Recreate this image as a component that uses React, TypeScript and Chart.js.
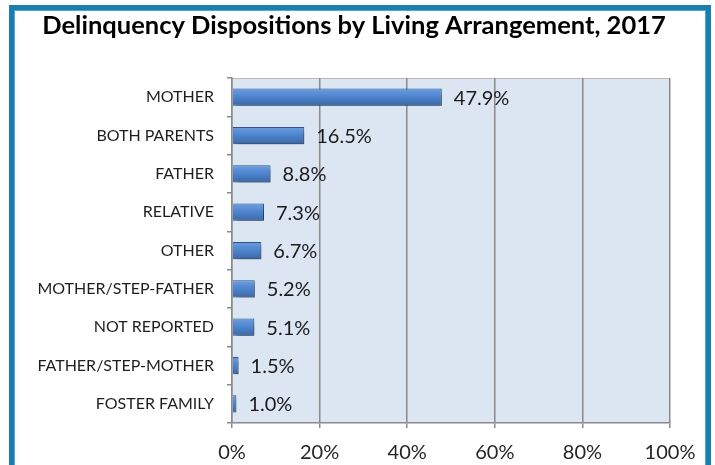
import React, { useEffect, useRef } from "react";
import { Chart, registerables } from "chart.js";

Chart.register(...registerables);

const TITLE = "Delinquency Dispositions by Living Arrangement, 2017";
const categories = [
  "MOTHER",
  "BOTH PARENTS",
  "FATHER",
  "RELATIVE",
  "OTHER",
  "MOTHER/STEP-FATHER",
  "NOT REPORTED",
  "FATHER/STEP-MOTHER",
  "FOSTER FAMILY",
];
const percentages = [47.9, 16.5, 8.8, 7.3, 6.7, 5.2, 5.1, 1.5, 1.0];
const xTicks = [0, 20, 40, 60, 80, 100];

const FONT = "Lato, 'Open Sans', sans-serif";

const bgPlugin = {
  id: "plotBg",
  beforeDraw(chart: any) {
    const { ctx, chartArea } = chart;
    if (!chartArea) return;
    ctx.save();
    ctx.fillStyle = "#dce6f2";
    ctx.fillRect(chartArea.left, chartArea.top, chartArea.right - chartArea.left, chartArea.bottom - chartArea.top);
    ctx.strokeStyle = "#b9b9b9";
    ctx.lineWidth = 1;
    ctx.beginPath();
    ctx.moveTo(chartArea.left, chartArea.top + 0.5);
    ctx.lineTo(chartArea.right, chartArea.top + 0.5);
    ctx.stroke();
    // chart title
    ctx.font = `bold 25.5px ${FONT}`;
    ctx.fillStyle = "#000000";
    ctx.textAlign = "center";
    ctx.textBaseline = "alphabetic";
    ctx.fillText(TITLE, 354, 34);
    ctx.restore();
  },
};

const shadowPlugin = {
  id: "barShadow",
  beforeDatasetsDraw(chart: any) {
    const ctx = chart.ctx;
    ctx.save();
    ctx.shadowColor = "rgba(0,0,0,0.38)";
    ctx.shadowBlur = 5;
    ctx.shadowOffsetX = 3;
    ctx.shadowOffsetY = 4;
  },
  afterDatasetsDraw(chart: any) {
    chart.ctx.restore();
  },
};

const labelPlugin = {
  id: "valueLabels",
  afterDatasetsDraw(chart: any) {
    const { ctx } = chart;
    const meta = chart.getDatasetMeta(0);
    ctx.save();
    ctx.font = `20px ${FONT}`;
    ctx.fillStyle = "#1a1a1a";
    ctx.textAlign = "left";
    ctx.textBaseline = "middle";
    meta.data.forEach((el: any, i: number) => {
      ctx.fillText(`${percentages[i].toFixed(1)}%`, el.x + 12, el.y + 1);
    });
    ctx.restore();
  },
};

export default function App() {
  const ref = useRef<HTMLCanvasElement | null>(null);

  useEffect(() => {
    if (!ref.current) return;
    const chart = new Chart(ref.current, {
      type: "bar",
      data: {
        labels: categories,
        datasets: [
          {
            data: percentages,
            backgroundColor: (c: any) => {
              const ch = c.chart;
              const ys = ch.scales && ch.scales.y;
              if (!ys || c.dataIndex === undefined) return "#4f86cf";
              const y = ys.getPixelForValue(c.dataIndex);
              if (!Number.isFinite(y)) return "#4f86cf";
              const g = ch.ctx.createLinearGradient(0, y - 9, 0, y + 9);
              g.addColorStop(0, "#6e9ee0");
              g.addColorStop(0.45, "#4f86cf");
              g.addColorStop(1, "#3a67a6");
              return g;
            },
            borderColor: "#2f5586",
            borderWidth: 1,
            barPercentage: 0.45,
            categoryPercentage: 1,
          },
        ],
      },
      options: {
        indexAxis: "y",
        animation: false,
        responsive: false,
        maintainAspectRatio: false,
        layout: { padding: { left: 0, right: 45, top: 78, bottom: 0 } },
        plugins: {
          legend: { display: false },
          tooltip: { enabled: false },
          title: { display: false },
        },
        scales: {
          x: {
            min: 0,
            max: 100,
            afterBuildTicks: (s: any) => {
              s.ticks = xTicks.map((v) => ({ value: v }));
            },
            afterFit: (s: any) => {
              s.height = 42;
            },
            ticks: {
              font: { family: FONT, size: 20 },
              color: "#262626",
              padding: 13,
              maxRotation: 0,
              callback: (v: any) => `${v}%`,
            },
            grid: {
              color: "#8a8a8a",
              lineWidth: 1.5,
              tickLength: 5,
            },
            border: { color: "#8a8a8a", width: 1.5 },
          },
          y: {
            afterFit: (s: any) => {
              s.width = 232;
            },
            ticks: {
              font: { family: FONT, size: 16 },
              color: "#1e1e1e",
              padding: 13,
            },
            grid: {
              drawOnChartArea: false,
              color: "#8a8a8a",
              lineWidth: 1.5,
              tickLength: 5,
              offset: true,
            },
            border: { color: "#8a8a8a", width: 1.5 },
          },
        },
      },
      plugins: [bgPlugin, shadowPlugin, labelPlugin],
    });
    return () => chart.destroy();
  }, []);

  return (
    <div style={{ position: "fixed", left: 0, top: 0, width: 715, height: 465, background: "#ffffff", overflow: "hidden" }}>
      <div
        style={{
          position: "absolute",
          left: 9,
          top: 5,
          width: 692,
          height: 600,
          border: "5px solid #1a7fb0",
          boxShadow: "inset 0 0 0 1px #4ea8d6",
          background: "#ffffff",
        }}
      />
      <canvas ref={ref} width={715} height={465} style={{ position: "absolute", left: 0, top: 0, width: 715, height: 465 }} />
    </div>
  );
}
